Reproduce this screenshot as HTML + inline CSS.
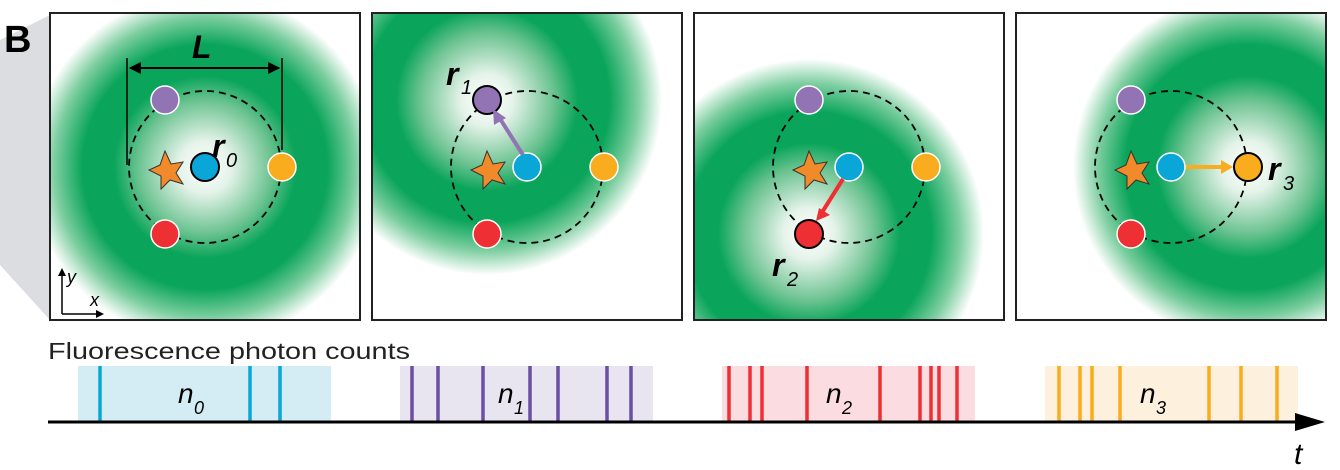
<!DOCTYPE html>
<html><head><meta charset="utf-8"><style>html,body{margin:0;padding:0;background:#fff;width:1340px;height:470px;overflow:hidden}svg{display:block}</style></head>
<body>
<svg width="1340" height="470" viewBox="0 0 1340 470" xmlns="http://www.w3.org/2000/svg" font-family="Liberation Sans, sans-serif">
<defs>
<radialGradient id="d" gradientUnits="userSpaceOnUse" cx="0" cy="0" r="175">
<stop offset="0" stop-color="#fff"/>
<stop offset="0.15" stop-color="#e4f3e9"/>
<stop offset="0.38" stop-color="#6cc391"/>
<stop offset="0.52" stop-color="#0aa55a"/>
<stop offset="0.7" stop-color="#0aa55a"/>
<stop offset="0.86" stop-color="#7dcea0"/>
<stop offset="1" stop-color="#fff"/>
</radialGradient>
<clipPath id="c1"><rect x="50" y="13" width="310" height="307"/></clipPath>
<clipPath id="c2"><rect x="372" y="13" width="310" height="307"/></clipPath>
<clipPath id="c3"><rect x="694" y="13" width="310" height="307"/></clipPath>
<clipPath id="c4"><rect x="1016" y="13" width="310" height="307"/></clipPath>
<marker id="ah" viewBox="0 0 10 10" refX="9" refY="5" markerWidth="6" markerHeight="6" orient="auto-start-reverse"><path d="M0,0L10,5L0,10z" fill="#000"/></marker>
<g id="base">
<circle cx="0" cy="0" r="76" fill="none" stroke="#000" stroke-width="1.8" stroke-dasharray="7,5"/>
<polygon points="-40,-16 -34,-3 -22,-5 -29,6 -22,17 -35,13 -44,22 -44,9 -56,3 -45,-2" fill="#f08a2a" stroke="#333" stroke-width="1"/>
<circle cx="-40" cy="-67" r="14" fill="#9274b5" stroke="#fff" stroke-width="1.5"/>
<circle cx="0" cy="0" r="14" fill="#0aa6d8" stroke="#fff" stroke-width="1.5"/>
<circle cx="77" cy="0" r="14" fill="#f8ac1e" stroke="#fff" stroke-width="1.5"/>
<circle cx="-40" cy="67" r="14" fill="#ee3035" stroke="#fff" stroke-width="1.5"/>
</g>
</defs>
<polygon points="0,40 50,15 50,320 0,265" fill="#dcdde0"/>
<text x="4" y="52" font-size="38" font-weight="bold">B</text>

<!-- panel 1 -->
<rect x="50" y="13" width="310" height="307" fill="#fff"/>
<g clip-path="url(#c1)"><rect x="-200" y="-200" width="400" height="400" fill="url(#d)" transform="translate(205 167)"/></g>
<g transform="translate(205 167)">
<use href="#base"/>
<circle cx="0" cy="0" r="14" fill="#0aa6d8" stroke="#000" stroke-width="2"/>
</g>
<line x1="127" y1="58" x2="127" y2="165" stroke="#000" stroke-width="1.5"/>
<line x1="282" y1="58" x2="282" y2="150" stroke="#000" stroke-width="1.5"/>
<line x1="130" y1="68" x2="279" y2="68" stroke="#000" stroke-width="2" marker-start="url(#ah)" marker-end="url(#ah)"/>
<text x="192" y="58" font-size="32" font-weight="bold" font-style="italic">L</text>
<text x="212" y="157" font-size="32" font-weight="bold" font-style="italic">r</text>
<text x="226" y="167" font-size="20" font-style="italic">0</text>
<g stroke="#000" stroke-width="1.5" fill="none"><path d="M62,314V272M62,314H100"/></g>
<path d="M62,268l-4,8h8z M104,314l-8,-4v8z" fill="#000"/>
<text x="67" y="283" font-size="18" font-style="italic">y</text>
<text x="90" y="306" font-size="18" font-style="italic">x</text>
<rect x="50" y="13" width="310" height="307" fill="none" stroke="#222" stroke-width="2"/>

<!-- panel 2 -->
<g clip-path="url(#c2)"><rect x="-200" y="-200" width="400" height="400" fill="url(#d)" transform="translate(487 100)"/></g>
<g transform="translate(527 167)">
<use href="#base"/>
<circle cx="-40" cy="-67" r="14" fill="#9274b5" stroke="#000" stroke-width="2"/>
<line x1="-4" y1="-12" x2="-30" y2="-53" stroke="#9274b5" stroke-width="4"/>
<path d="M-34,-58l1,16l12,-7z" fill="#9274b5"/>
</g>
<text x="446" y="85" font-size="32" font-weight="bold" font-style="italic">r</text>
<text x="461" y="94" font-size="20" font-style="italic">1</text>
<rect x="372" y="13" width="310" height="307" fill="none" stroke="#222" stroke-width="2"/>

<!-- panel 3 -->
<g clip-path="url(#c3)"><rect x="-200" y="-200" width="400" height="400" fill="url(#d)" transform="translate(809 234)"/></g>
<g transform="translate(849 167)">
<use href="#base"/>
<circle cx="-40" cy="67" r="14" fill="#ee3035" stroke="#000" stroke-width="2"/>
<line x1="-6" y1="12" x2="-28" y2="47" stroke="#ee3035" stroke-width="4"/>
<path d="M-33,54l14,-6l-11,-7z" fill="#ee3035"/>
</g>
<text x="772" y="276" font-size="32" font-weight="bold" font-style="italic">r</text>
<text x="787" y="286" font-size="20" font-style="italic">2</text>
<rect x="694" y="13" width="310" height="307" fill="none" stroke="#222" stroke-width="2"/>

<!-- panel 4 -->
<g clip-path="url(#c4)"><rect x="-200" y="-200" width="400" height="400" fill="url(#d)" transform="translate(1248 167)"/></g>
<g transform="translate(1171 167)">
<use href="#base"/>
<circle cx="77" cy="0" r="14" fill="#f8ac1e" stroke="#000" stroke-width="2"/>
<line x1="15" y1="0" x2="52" y2="0" stroke="#f8ac1e" stroke-width="4"/>
<path d="M62,0l-12,-7v14z" fill="#f8ac1e"/>
</g>
<text x="1268" y="180" font-size="32" font-weight="bold" font-style="italic">r</text>
<text x="1283" y="190" font-size="20" font-style="italic">3</text>
<rect x="1016" y="13" width="310" height="307" fill="none" stroke="#222" stroke-width="2"/>

<!-- timeline -->
<text x="48" y="359" font-size="23" fill="#222" textLength="362" lengthAdjust="spacingAndGlyphs">Fluorescence photon counts</text>
<rect x="78" y="366" width="253" height="55" fill="#d4ecf3"/>
<rect x="400" y="366" width="253" height="55" fill="#e8e5f1"/>
<rect x="722" y="366" width="253" height="55" fill="#fbdce0"/>
<rect x="1045" y="366" width="253" height="55" fill="#fdf0dc"/>
<g stroke="#0aa6d8" stroke-width="3.5"><path d="M100,366V421M250,366V421M280,366V421"/></g>
<g stroke="#6a4fa3" stroke-width="3.5"><path d="M412,366V421M438,366V421M483,366V421M530,366V421M558,366V421M607,366V421M631,366V421"/></g>
<g stroke="#ee3035" stroke-width="3.5"><path d="M729,366V421M750,366V421M762,366V421M807,366V421M880,366V421M920,366V421M931,366V421M939,366V421M957,366V421"/></g>
<g stroke="#f8ac1e" stroke-width="3.5"><path d="M1059,366V421M1080,366V421M1092,366V421M1120,366V421M1209,366V421M1241,366V421M1277,366V421"/></g>
<text x="178" y="403" font-size="28" font-style="italic">n</text><text x="194" y="414" font-size="18" font-style="italic">0</text>
<text x="498" y="403" font-size="28" font-style="italic">n</text><text x="514" y="414" font-size="18" font-style="italic">1</text>
<text x="826" y="403" font-size="28" font-style="italic">n</text><text x="842" y="414" font-size="18" font-style="italic">2</text>
<text x="1140" y="403" font-size="28" font-style="italic">n</text><text x="1156" y="414" font-size="18" font-style="italic">3</text>
<line x1="48" y1="422" x2="1298" y2="422" stroke="#000" stroke-width="3"/>
<path d="M1325,422l-30,-9v18z" fill="#000"/>
<text x="1294" y="464" font-size="30" font-style="italic">t</text>
</svg>
</body></html>
